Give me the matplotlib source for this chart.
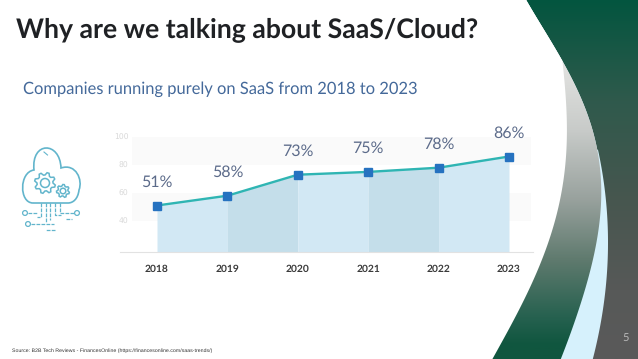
import numpy as np
import matplotlib
matplotlib.use("Agg")
import matplotlib.pyplot as plt
from matplotlib.colors import LinearSegmentedColormap
from matplotlib.patches import Circle, PathPatch, Polygon
from matplotlib.path import Path

plt.rcParams["text.hinting"] = "no_hinting"

years = [2018, 2019, 2020, 2021, 2022, 2023]
shares = [51, 58, 73, 75, 78, 86]
y_ticks = [40, 60, 80, 100]
band_ranges = [(80, 100), (40, 60)]

title = "Why are we talking about SaaS/Cloud?"
subtitle = "Companies running purely on SaaS from 2018 to 2023"
source = "Source: B2B Tech Reviews - FinancesOnline (https://financesonline.com/saas-trends/)"

W, H = 638, 359
fig = plt.figure(figsize=(W / 100, H / 100), dpi=100, facecolor="white")

# slide background, in pixel coordinates
bg = fig.add_axes([0, 0, 1, 1])
bg.set_xlim(0, W)
bg.set_ylim(H, 0)
bg.axis("off")

ys = np.linspace(0, H, 400)
white_edge = np.poly1d(np.polyfit(
    [67, 117, 133, 163, 200, 227, 267, 300, 333, 358],
    [563, 567, 567, 565, 560, 553, 540, 523, 507, 493], 4))(ys)
cres_edge = np.poly1d(np.polyfit(
    [0, 50, 83, 113, 150, 190, 200, 233, 277, 317, 358],
    [526, 557, 573, 587, 597, 602, 602, 597, 588, 577, 561], 5))(ys)
blue_edge = np.poly1d(np.polyfit(
    [150, 200, 233, 267, 317, 358],
    [598, 606, 608, 607, 602, 593], 3))(ys)
blue_edge = np.where(ys < 150, cres_edge, np.maximum(blue_edge, cres_edge))
white_edge = np.minimum(white_edge, cres_edge)


def region(edge, color=None):
    pts = np.column_stack([np.r_[edge, -5, -5], np.r_[ys, H, 0]])
    return Polygon(pts, closed=True, facecolor=color or "none", edgecolor="none")


def gradient(stops, patch, zorder):
    cmap = LinearSegmentedColormap.from_list("g", [(p / H, c) for p, c in stops])
    im = bg.imshow(np.linspace(0, 1, 256)[:, None], cmap=cmap, aspect="auto",
                   extent=(0, W, H, 0), zorder=zorder, vmin=0, vmax=1)
    if patch is not None:
        bg.add_patch(patch)
        im.set_clip_path(patch)


gradient([(0, "#03553f"), (100, "#2f5a4c"), (200, "#47564f"), (290, "#575958"), (359, "#5a5a5a")], None, 1)
p = region(blue_edge, "#d6f1fc")
p.set_zorder(2)
bg.add_patch(p)
clip = region(cres_edge)
gradient([(0, "#e8e8e6"), (65, "#e2e2e0"), (130, "#c8cbc9"), (200, "#98a19d"),
          (260, "#5f7a6e"), (320, "#24604e"), (345, "#10563f"), (359, "#10563f")], clip, 3)
p = region(white_edge, "white")
p.set_zorder(4)
bg.add_patch(p)
bg.set_xlim(0, W)
bg.set_ylim(H, 0)

# cloud icon
ic = "#62b5cc"
cloud = Path(
    [(33, 203), (19, 203), (19, 172), (34, 170),
     (31, 141), (60, 141), (61, 168),
     (76, 163), (83, 180), (79, 190),
     (78, 199), (73, 203), (68, 203), (33, 203)],
    [Path.MOVETO] + [Path.CURVE4] * 12 + [Path.LINETO])
bg.add_patch(PathPatch(cloud, fc="none", ec=ic, lw=1.2, zorder=5))
bg.plot([44, 47.5], [152, 155], color=ic, lw=0.8, zorder=5)


def gear(cx, cy, r_out, r_in, n):
    ang = np.linspace(0, 2 * np.pi, n * 4, endpoint=False) + 0.2
    rad = np.tile([r_out, r_out, r_in, r_in], n)
    return Polygon(np.column_stack([cx + rad * np.cos(ang), cy + rad * np.sin(ang)]),
                   closed=True, fc="none", ec=ic, lw=1.1, zorder=5)


bg.add_patch(gear(45, 183, 10.5, 8, 8))
bg.add_patch(Circle((45, 183), 4.5, fc="none", ec=ic, lw=1.1, zorder=5))
bg.add_patch(gear(63, 191, 6.5, 5, 7))
bg.add_patch(Circle((63, 191), 2.8, fc="none", ec=ic, lw=1.1, zorder=5))
for seg in [[(28, 213), (37, 213)], [(41, 203), (41, 217), (37, 217)],
            [(46, 203), (46, 222)], [(50, 203), (50, 220)],
            [(55, 203), (55, 215), (61, 215)], [(60, 203), (60, 213), (74, 213)],
            [(31, 224), (54, 224)], [(55, 230), (46, 230)], [(66, 219), (72, 219)]]:
    xs, yy = zip(*seg)
    bg.plot(xs, yy, color=ic, lw=0.9, zorder=5, ls=(0, (3, 1)))
for c in [(25, 213), (77, 213), (28, 224)]:
    bg.add_patch(Circle(c, 2.4, fc="white", ec=ic, lw=0.9, zorder=5))

# slide texts
bg.text(16, 30, title, fontsize=19.2, fontweight="bold", family="Lato", color="#1f2124",
        va="center", ha="left", zorder=6)
bg.text(23, 89, subtitle, fontsize=11.9, family="Lato", color="#44699a",
        va="center", ha="left", zorder=6)
bg.text(12, 351, source, fontsize=3.8, family="Liberation Sans", color="#333333",
        va="center", ha="left", zorder=6)
bg.text(626, 338, "5", fontsize=8, family="Lato", color="#b9b9b9", va="center", ha="center", zorder=6)

# the chart itself
ax = fig.add_axes([120 / W, 1 - 251.7 / H, 413 / W, 121.7 / H], zorder=2)
ax.patch.set_alpha(0)
x0 = 2018 - 37 / 70.4
ax.set_xlim(x0, x0 + 413 / 70.4)
ax.set_ylim(18, 18 + 121.7 / 1.4)

for low, high in band_ranges:
    ax.axhspan(low, high, xmin=12 / 413, xmax=411 / 413, color="#fafafa", lw=0, zorder=1)

for i in range(len(years) - 1):
    ax.fill_between(years[i:i + 2], shares[i:i + 2], ax.get_ylim()[0], lw=0, zorder=2,
                    color="#c4deea" if i % 2 else "#d2e8f4")
ax.plot(years, shares, color="#2fb5b3", lw=1.7, zorder=3)
ax.plot(years, shares, ls="none", marker="s", ms=6.2, color="#2672c0", zorder=4)

for yr, v in zip(years, shares):
    ax.annotate(f"{v}%", (yr, v), xytext=(0, 17), textcoords="offset points", ha="center",
                va="center", fontsize=11.5, color="#5c6b8a", family="Lato")

ax.set_xticks(years)
ax.set_xticklabels(years, fontsize=7.4, fontweight="bold", color="#3a3a3a", family="Lato")
ax.set_yticks(y_ticks)
ax.set_yticklabels(y_ticks, fontsize=5.5, color="#d9d9d9")
ax.tick_params(axis="x", length=0, pad=9)
ax.tick_params(axis="y", length=0, pad=-6)
for s in ["top", "right", "left"]:
    ax.spines[s].set_visible(False)
ax.spines["bottom"].set_color("#e2e2e2")
ax.spines["bottom"].set_linewidth(0.8)

fig.savefig("out.png", dpi=100)
